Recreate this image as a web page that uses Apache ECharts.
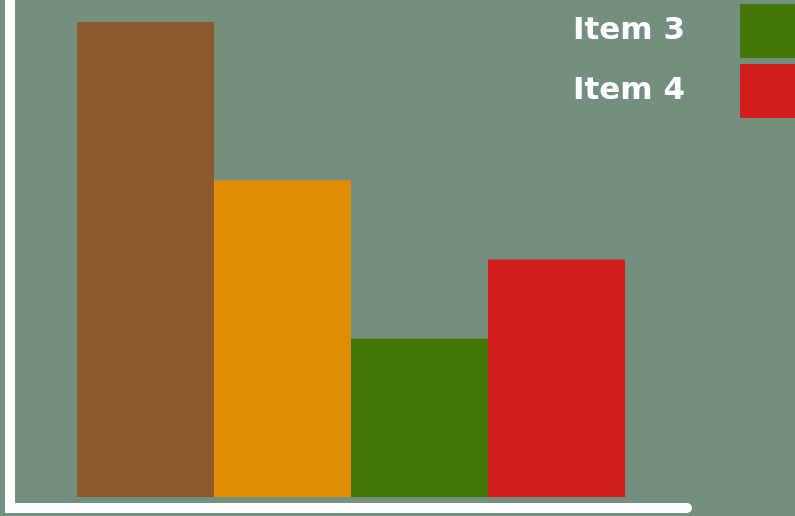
<!DOCTYPE html>
<html><head><meta charset="utf-8">
<script src="https://cdn.jsdelivr.net/npm/echarts@6/dist/echarts.min.js"></script>
<style>html,body{margin:0;padding:0;background:#73907f}#c{width:795px;height:516px}</style>
</head><body><div id="c"></div>
<script>
const categories = ['Group'];
const seriesNames = ['Item 1', 'Item 2', 'Item 3', 'Item 4'];
const seriesValues = [30, 20, 10, 15];
const seriesColors = ['#8c5a2c', '#e18d04', '#437606', '#d11f1e'];
const legendItems = ['Item 3', 'Item 4'];

const chart = echarts.init(document.getElementById('c'));
chart.setOption({
  backgroundColor: '#73907f',
  animation: false,
  grid: { left: 77, right: 170, top: 22, bottom: 19 },
  xAxis: { type: 'category', data: categories, show: false },
  yAxis: { type: 'value', min: 0, max: 30, show: false },
  legend: {
    data: legendItems,
    orient: 'vertical',
    align: 'right',
    right: -5,
    top: 4,
    padding: 0,
    itemWidth: 60,
    itemHeight: 54,
    itemGap: 6,
    icon: 'rect',
    textStyle: { color: '#ffffff', fontSize: 31, fontWeight: 'bold', fontFamily: 'DejaVu Sans', padding: [0, 50, 0, 0] }
  },
  graphic: [{
    type: 'polyline',
    shape: { points: [[10, -10], [10, 508], [687, 508]] },
    style: { stroke: '#ffffff', lineWidth: 10, lineCap: 'round', lineJoin: 'miter', fill: null }
  }],
  series: seriesNames.map((n, i) => ({
    name: n,
    type: 'bar',
    barGap: '0%',
    barCategoryGap: '0%',
    itemStyle: { color: seriesColors[i] },
    data: [seriesValues[i]]
  }))
});
</script></body></html>
